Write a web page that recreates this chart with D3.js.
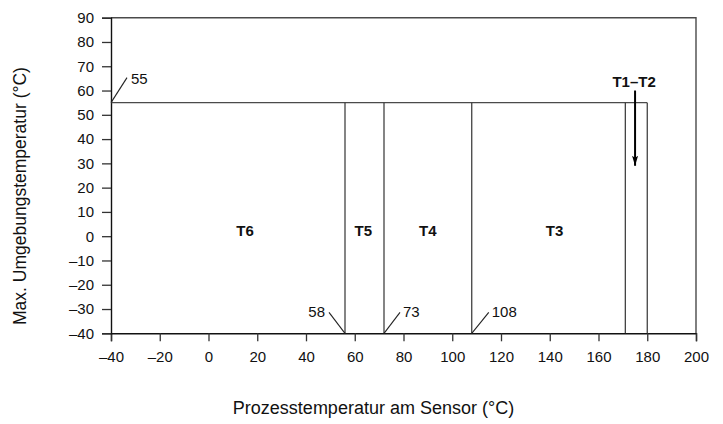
<!DOCTYPE html>
<html>
<head>
<meta charset="utf-8">
<script src="https://cdn.jsdelivr.net/npm/d3@7"></script>
<style>
  html, body { margin: 0; padding: 0; background: #fff; }
  svg { display: block; font-family: "Liberation Sans", Arial, Helvetica, sans-serif; }
</style>
</head>
<body>
<svg id="chart" width="723" height="424"></svg>
<script>
// ---- data ----
const xTicks = [-40, -20, 0, 20, 40, 60, 80, 100, 120, 140, 160, 180, 200];
const yTicks = [-40, -30, -20, -10, 0, 10, 20, 30, 40, 50, 60, 70, 80, 90];
const xDomain = [-40, 200];
const yDomain = [-40, 90];
const maxAmbient = 55;                 // upper limit line
const limitEnd = 180;                  // line ends at 180 °C
const boundaries = [56, 72, 108, 171, 180];   // vertical class boundaries
const zoneNames = ["T6", "T5", "T4", "T3"];
const zoneX = [15, 63.5, 90, 142];
const zoneY = [0, 0, 0, 0];
const boundaryLabels = ["58", "73", "108"];
const boundaryLabelX = [56, 72, 108];
const arrowLabel = "T1–T2";
const arrowX = 175;
const arrowFrom = 60;
const arrowTo = 29;
const xTitle = "Prozesstemperatur am Sensor (°C)";
const yTitle = "Max. Umgebungstemperatur (°C)";

// ---- layout ----
const W = 723, H = 424;
const m = { left: 111, right: 27, top: 17.7, bottom: 90.7 };
const svg = d3.select("#chart");
const x = d3.scaleLinear().domain(xDomain).range([m.left, W - m.right]);
const y = d3.scaleLinear().domain(yDomain).range([H - m.bottom, m.top]);
const fmt = d => d < 0 ? "\u2013" + Math.abs(d) : String(d);

// frame (top + right)
svg.append("path")
  .attr("d", `M${x(xDomain[0])},${y(yDomain[1])}H${x(xDomain[1])}V${y(yDomain[0])}`)
  .attr("fill", "none").attr("stroke", "#4a4a4a").attr("stroke-width", 1.4);

// axes
const xAxis = svg.append("g").attr("transform", `translate(0,${y(yDomain[0])})`)
  .call(d3.axisBottom(x).tickValues(xTicks).tickFormat(fmt).tickSize(8).tickPadding(10));
const yAxis = svg.append("g").attr("transform", `translate(${x(xDomain[0])},0)`)
  .call(d3.axisLeft(y).tickValues(yTicks).tickFormat(fmt).tickSize(9).tickPadding(8));
[xAxis, yAxis].forEach(g => {
  g.select(".domain").attr("stroke", "#111").attr("stroke-width", 1.4);
  g.selectAll(".tick line").attr("stroke", "#333").attr("stroke-width", 1.3);
  g.selectAll(".tick text").attr("fill", "#111").style("font-size", "15px")
    .style("font-family", "'Liberation Sans', Arial, sans-serif");
});

// limit line at 55
svg.append("line")
  .attr("x1", x(xDomain[0])).attr("x2", x(limitEnd))
  .attr("y1", y(maxAmbient)).attr("y2", y(maxAmbient))
  .attr("stroke", "#4a4a4a").attr("stroke-width", 1.4);

// vertical boundaries
svg.selectAll("line.bound").data(boundaries).join("line")
  .attr("class", "bound")
  .attr("x1", d => x(d)).attr("x2", d => x(d))
  .attr("y1", y(maxAmbient)).attr("y2", y(yDomain[0]))
  .attr("stroke", "#333").attr("stroke-width", 1.2);

// zone labels
svg.selectAll("text.zone").data(zoneNames).join("text")
  .attr("class", "zone")
  .attr("x", (d, i) => x(zoneX[i])).attr("y", (d, i) => y(zoneY[i]))
  .attr("text-anchor", "middle").attr("font-weight", "bold")
  .attr("font-size", 15).attr("fill", "#111").text(d => d);

// boundary annotations with leader lines
const leaderDx = [-16, 16, 17];
boundaryLabels.forEach((lab, i) => {
  const px = x(boundaryLabelX[i]), py = y(yDomain[0]);
  const ex = px + leaderDx[i], ey = py - 21;
  svg.append("line").attr("x1", px).attr("y1", py).attr("x2", ex).attr("y2", ey)
    .attr("stroke", "#222").attr("stroke-width", 1.1);
  svg.append("text")
    .attr("x", leaderDx[i] < 0 ? ex - 4 : ex + 3).attr("y", ey + 5)
    .attr("text-anchor", leaderDx[i] < 0 ? "end" : "start")
    .attr("font-size", 15).attr("fill", "#111").text(lab);
});

// 55 annotation
{
  const px = x(xDomain[0]), py = y(maxAmbient);
  const ex = px + 16, ey = py - 25;
  svg.append("line").attr("x1", px).attr("y1", py).attr("x2", ex).attr("y2", ey)
    .attr("stroke", "#222").attr("stroke-width", 1.1);
  svg.append("text").attr("x", ex + 4).attr("y", ey + 6)
    .attr("font-size", 15).attr("fill", "#111").text(String(maxAmbient));
}

// T1–T2 arrow
svg.append("defs").append("marker")
  .attr("id", "arr").attr("viewBox", "0 0 10 10").attr("refX", 10).attr("refY", 5)
  .attr("markerWidth", 10).attr("markerHeight", 6).attr("markerUnits", "userSpaceOnUse")
  .attr("orient", "auto").attr("preserveAspectRatio", "none")
  .append("path").attr("d", "M0,0L10,5L0,10L2,5Z").attr("fill", "#000");
svg.append("line")
  .attr("x1", x(arrowX)).attr("x2", x(arrowX))
  .attr("y1", y(arrowFrom)).attr("y2", y(arrowTo))
  .attr("stroke", "#000").attr("stroke-width", 2)
  .attr("marker-end", "url(#arr)");
svg.append("text").attr("x", x(arrowX) - 1).attr("y", y(arrowFrom) - 4)
  .attr("text-anchor", "middle").attr("font-weight", "bold")
  .attr("font-size", 15).attr("fill", "#111").text(arrowLabel);

// axis titles
svg.append("text").attr("x", 373.5).attr("y", 414)
  .attr("text-anchor", "middle").attr("font-size", 18).attr("fill", "#111").text(xTitle);
svg.append("text")
  .attr("transform", `translate(26,325) rotate(-90)`)
  .attr("text-anchor", "start").attr("font-size", 17.5).attr("fill", "#111").text(yTitle);
</script>
</body>
</html>
